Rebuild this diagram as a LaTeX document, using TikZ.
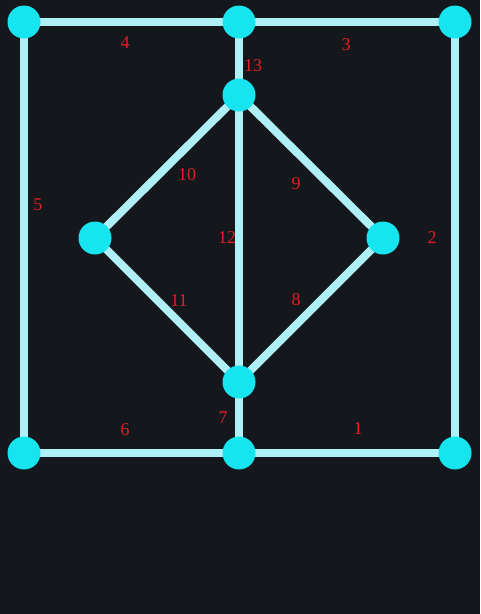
\documentclass[tikz,border=0pt]{standalone}
\usepackage{fontspec}
\setmainfont{Liberation Serif}
\definecolor{board}{RGB}{20,23,28}
\definecolor{dotcol}{RGB}{22,228,238}
\definecolor{edgecol}{RGB}{175,240,246}
\definecolor{numcol}{RGB}{228,30,36}
\pgfdeclarelayer{boardlayer}
\pgfdeclarelayer{edgelayer}
\pgfsetlayers{boardlayer,edgelayer,main}

\begin{document}
\begin{tikzpicture}
          [x=1pt,y=-1pt,
           spot/.style={shape=circle,fill=dotcol,inner sep=0pt,minimum size=33pt},
           num/.style={text=numcol,font=\fontsize{18}{20}\selectfont,inner sep=0pt},
           link/.style={draw=edgecol,line width=8pt}]

          \begin{pgfonlayer}{boardlayer}
          \fill[board] (0,0) rectangle (480,614);
          \end{pgfonlayer}
          \useasboundingbox (0,0) rectangle (480,614);

          \node[spot] (tl) at (24,22) {};
          \node[spot] (tm) at (239,22) {};
          \node[spot] (tr) at (455,22) {};
          \node[spot] (dt) at (239,95) {};
          \node[spot] (dl) at (95,238) {};
          \node[spot] (dr) at (383,238) {};
          \node[spot] (db) at (239,382) {};
          \node[spot] (bl) at (24,453) {};
          \node[spot] (bm) at (239,453) {};
          \node[spot] (br) at (455,453) {};

          \begin{pgfonlayer}{edgelayer}
          \draw[link] (bm.center) -- (br.center);
          \draw[link] (br.center) -- (tr.center);
          \draw[link] (tr.center) -- (tm.center);
          \draw[link] (tm.center) -- (tl.center);
          \draw[link] (tl.center) -- (bl.center);
          \draw[link] (bl.center) -- (bm.center);
          \draw[link] (bm.center) -- (db.center);
          \draw[link] (db.center) -- (dr.center);
          \draw[link] (dr.center) -- (dt.center);
          \draw[link] (dt.center) -- (dl.center);
          \draw[link] (dl.center) -- (db.center);
          \draw[link] (dt.center) -- (db.center);
          \draw[link] (tm.center) -- (dt.center);
          \end{pgfonlayer}

          \node[num] (n1) at (358,429) {1};
          \node[num] (n2) at (432,238) {2};
          \node[num] (n3) at (346,45) {3};
          \node[num] (n4) at (125,43) {4};
          \node[num] (n5) at (38,205) {5};
          \node[num] (n6) at (125,430) {6};
          \node[num] (n7) at (223,418) {7};
          \node[num] (n8) at (296,300) {8};
          \node[num] (n9) at (296,184) {9};
          \node[num] (n10) at (187,175) {10};
          \node[num] (n11) at (179,301) {11};
          \node[num] (n12) at (227,238) {12};
          \node[num] (n13) at (253,66) {13};
        \end{tikzpicture}
\end{document}
